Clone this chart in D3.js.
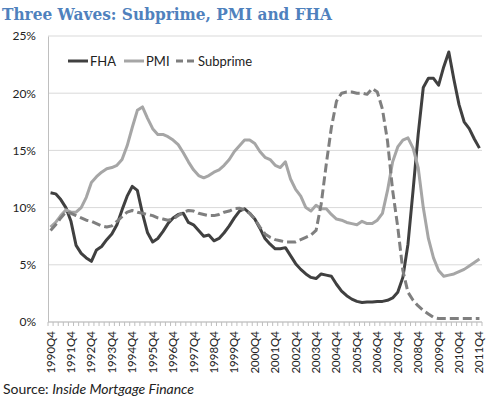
<!DOCTYPE html>
<html>
<head>
<meta charset="utf-8">
<script src="https://cdnjs.cloudflare.com/ajax/libs/d3/7.8.5/d3.min.js"></script>
<style>
    body { margin: 0; background: #fff; }
    text { font-family: Lato, "Open Sans", sans-serif; }
</style>
</head>
<body>
<div id="chart-area"></div>
<script>
// quarters 1990Q4 .. 2011Q4
var quarters = [];
for (var yr = 1990; yr <= 2011; yr++) {
    var qs = yr == 1990 ? [4] : [1, 2, 3, 4];
    qs.forEach(function(q){ quarters.push(yr + "Q" + q); });
}

var fha = [11.3, 11.2, 10.7, 10.0, 8.8, 6.7, 6.0, 5.6, 5.3, 6.3, 6.6, 7.2, 7.7, 8.5, 9.8, 11.0,
    11.85, 11.5, 9.5, 7.8, 7.0, 7.3, 7.9, 8.6, 9.1, 9.4, 9.5, 8.7, 8.5, 8.0, 7.5, 7.6,
    7.1, 7.3, 7.8, 8.4, 9.1, 9.7, 9.9, 9.5, 9.0, 8.2, 7.3, 6.8, 6.4, 6.4, 6.5, 5.8,
    5.1, 4.6, 4.2, 3.9, 3.8, 4.2, 4.1, 4.0, 3.3, 2.7, 2.3, 2.0, 1.8, 1.7, 1.75, 1.75,
    1.8, 1.8, 1.9, 2.1, 2.6, 3.9, 6.8, 11.5, 16.4, 20.5, 21.3, 21.3, 20.7, 22.3, 23.6, 21.2,
    19.0, 17.5, 16.9, 16.0, 15.2];

var pmi = [8.3, 8.7, 9.3, 9.8, 9.6, 9.6, 10.0, 10.9, 12.2, 12.7, 13.1, 13.4, 13.5, 13.7, 14.2, 15.4,
    17.0, 18.5, 18.8, 17.8, 16.9, 16.4, 16.4, 16.2, 15.9, 15.5, 14.8, 14.0, 13.3, 12.8, 12.6, 12.8,
    13.1, 13.3, 13.7, 14.2, 14.9, 15.4, 15.9, 15.9, 15.6, 14.9, 14.4, 14.2, 13.7, 13.5, 14.0, 12.5,
    11.6, 11.0, 10.0, 9.7, 10.2, 9.9, 9.9, 9.4, 9.0, 8.9, 8.7, 8.6, 8.5, 8.8, 8.6, 8.6,
    8.9, 9.5, 11.5, 14.0, 15.3, 15.9, 16.1, 15.2, 13.5, 10.0, 7.3, 5.6, 4.5, 4.0, 4.1, 4.2,
    4.4, 4.6, 4.9, 5.2, 5.5];

var subprime = [8.0, 8.5, 9.1, 9.6, 9.5, 9.3, 9.1, 8.9, 8.8, 8.6, 8.4, 8.3, 8.4, 8.8, 9.2, 9.6,
    9.75, 9.6, 9.5, 9.4, 9.3, 9.1, 9.0, 8.9, 9.0, 9.3, 9.6, 9.75, 9.7, 9.5, 9.4, 9.3,
    9.3, 9.4, 9.6, 9.7, 9.9, 9.95, 9.8, 9.5, 9.0, 8.3, 7.7, 7.4, 7.2, 7.1, 7.0, 7.0,
    7.0, 7.2, 7.4, 7.6, 8.0, 10.3, 13.8, 17.0, 19.3, 20.0, 20.1, 20.1, 20.0, 20.0, 19.9, 20.4,
    20.1, 18.6, 15.8, 11.5, 8.3, 4.5, 2.6, 1.9, 1.4, 1.0, 0.7, 0.4, 0.3, 0.3, 0.3, 0.3,
    0.3, 0.3, 0.3, 0.3, 0.3];

var yTicks = [0, 5, 10, 15, 20, 25];

var series = [
    { name: "FHA", values: fha, color: "#404040", dash: null },
    { name: "PMI", values: pmi, color: "#a6a6a6", dash: null },
    { name: "Subprime", values: subprime, color: "#7f7f7f", dash: "9,4" }
];

var margin = { left: 48, right: 18, top: 36, bottom: 76 };
var width = 500 - margin.left - margin.right;
var height = 398 - margin.top - margin.bottom;

var svg = d3.select("#chart-area")
    .append("svg")
        .attr("width", 500)
        .attr("height", 398);

svg.append("text")
    .attr("x", 2)
    .attr("y", 20)
    .style("font-family", "'DejaVu Serif', serif")
    .attr("font-weight", "bold")
    .attr("font-size", "17.5px")
    .attr("fill", "#4f81bd")
    .attr("textLength", 330)
    .attr("lengthAdjust", "spacingAndGlyphs")
    .text("Three Waves: Subprime, PMI and FHA");

var g = svg.append("g")
    .attr("transform", "translate(" + margin.left + "," + margin.top + ")");

var x = d3.scalePoint()
    .domain(quarters)
    .range([0, width])
    .padding(0.5);

var y = d3.scaleLinear()
    .domain([0, 25])
    .range([height, 0]);

// gridlines
g.append("g")
    .selectAll("line")
    .data(yTicks)
    .enter()
    .append("line")
        .attr("x1", 0)
        .attr("x2", width)
        .attr("y1", function(d){ return y(d); })
        .attr("y2", function(d){ return y(d); })
        .attr("stroke", "#d9d9d9")
        .attr("stroke-width", 1);

var yAxisCall = d3.axisLeft(y)
    .tickValues(yTicks)
    .tickSize(0)
    .tickPadding(12)
    .tickFormat(function(d){ return d + "%"; });

var yAxis = g.append("g")
    .attr("class", "y axis")
    .call(yAxisCall);
yAxis.select(".domain").attr("stroke", "#bfbfbf");
yAxis.selectAll("text")
    .attr("font-size", "12px")
    .attr("fill", "#222");

// x axis: tick at every quarter boundary, labels every 4 quarters
var step = x.step();
var xAxis = g.append("g")
    .attr("class", "x axis")
    .attr("transform", "translate(0," + height + ")");

xAxis.append("line")
    .attr("x1", 0)
    .attr("x2", width)
    .attr("stroke", "#bfbfbf");

xAxis.selectAll(".qtick")
    .data(d3.range(quarters.length + 1))
    .enter()
    .append("line")
        .attr("class", "qtick")
        .attr("x1", function(d){ return d * step; })
        .attr("x2", function(d){ return d * step; })
        .attr("y1", 0)
        .attr("y2", 4)
        .attr("stroke", "#bfbfbf");

xAxis.selectAll(".qlabel")
    .data(quarters.filter(function(d){ return d.slice(4) == "Q4"; }))
    .enter()
    .append("text")
        .attr("class", "qlabel")
        .attr("transform", function(d){ return "translate(" + (x(d) + 4) + ",9) rotate(-90)"; })
        .attr("text-anchor", "end")
        .attr("font-size", "11.5px")
        .attr("fill", "#222")
        .text(function(d){ return d; });

var line = d3.line()
    .x(function(d, i){ return x(quarters[i]); })
    .y(function(d){ return y(d); });

g.selectAll(".series")
    .data(series)
    .enter()
    .append("path")
        .attr("class", "series")
        .attr("d", function(d){ return line(d.values); })
        .attr("fill", "none")
        .attr("stroke", function(d){ return d.color; })
        .attr("stroke-width", 3)
        .attr("stroke-linejoin", "round")
        .attr("stroke-dasharray", function(d){ return d.dash; });

// legend
var legendX = [20, 76, 128];
var legend = g.selectAll(".legend")
    .data(series)
    .enter()
    .append("g")
        .attr("class", "legend")
        .attr("transform", function(d, i){ return "translate(" + legendX[i] + ",25)"; });

legend.append("line")
    .attr("x1", 0)
    .attr("x2", 20)
    .attr("stroke", function(d){ return d.color; })
    .attr("stroke-width", 3)
    .attr("stroke-dasharray", function(d){ return d.dash ? "7,4" : null; });

legend.append("text")
    .attr("x", 22)
    .attr("y", 4.5)
    .attr("font-size", "13px")
    .attr("fill", "#222")
    .text(function(d){ return d.name; });

var src = svg.append("text")
    .attr("x", 3)
    .attr("y", 394)
    .attr("font-size", "14px")
    .attr("fill", "#222");
src.append("tspan").text("Source: ");
src.append("tspan").attr("font-style", "italic").text("Inside Mortgage Finance");
</script>
</body>
</html>
